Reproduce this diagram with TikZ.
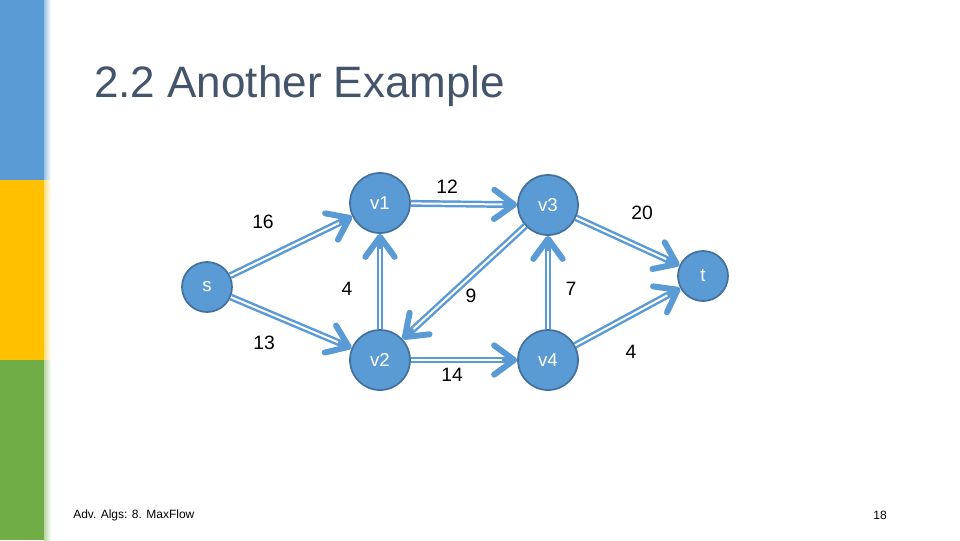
\documentclass[tikz,border=0pt]{standalone}
\usepackage{fontspec}
\setmainfont{Liberation Sans}
\usepackage{tikz}
\usetikzlibrary{positioning, arrows.meta}
\definecolor{barblue}{HTML}{5B9BD5}
\definecolor{baryellow}{HTML}{FFC000}
\definecolor{bargreen}{HTML}{70AD47}
\definecolor{nodeblue}{HTML}{5B9BD5}
\definecolor{nodeline}{HTML}{41719C}
\definecolor{titlegray}{HTML}{44546A}
\tikzset{
x=0.75pt, y=-0.75pt, % one unit is one pixel of the slide
node distance=126pt, % distance between two columns of the network
vertex/.style={circle, draw=nodeline, line width=1.3pt, fill=nodeblue, text=white, font=\fontsize{14}{16}\selectfont, inner sep=0pt, minimum size=45pt}, % the v nodes
small vertex/.style={vertex, minimum size=37.5pt}, % s and t
flow/.style={draw=nodeblue, line width=5.2pt, -{Straight Barb[length=15pt, width=22pt, line width=4.5pt, round]},
  postaction={draw=white, line width=1.5pt, -, shorten >=11pt}}, % double looking edge
weight/.style={font=\fontsize{14.5}{16}\selectfont, text=black, inner sep=0pt}, % capacities
}
\begin{document}
\begin{tikzpicture}
        \useasboundingbox (0,0) rectangle (960,540);
        \fill[white] (0,0) rectangle (960,540);
        % coloured bar on the left
        \fill[barblue] (0,0) rectangle (44,180);
        \fill[baryellow] (0,180) rectangle (44,360);
        \fill[bargreen] (0,360) rectangle (44,540);
        \shade[left color=barblue!60, right color=white] (44,0) rectangle (51,180);
        \shade[left color=baryellow!50, right color=white] (44,180) rectangle (51,360);
        \shade[left color=bargreen!50, right color=white] (44,360) rectangle (51,540);

        \node[anchor=base west, inner sep=0pt, text=titlegray, font=\fontsize{33}{36}\selectfont] (title) at (94,97) {2.2 Another Example};

            \node[small vertex] (s) at (207,287) {s};
            \node[vertex, right of=s, xshift=3.75pt, yshift=63pt] (v1) {v1};
            \node[vertex, right of=s, xshift=3.75pt, yshift=-54.75pt] (v2) {v2};
            \node[vertex, right of=v1, yshift=-1.5pt] (v3) {v3};
            \node[vertex, right of=v2] (v4) {v4};
            \node[small vertex, right of=v3, xshift=-9.75pt, yshift=-53.25pt] (t) {t};
            \draw[flow] (s) -- (v1);
            \draw[flow] (s) -- (v2);
            \draw[flow] (v1) -- (v3);
            \draw[flow] (v2) -- (v1);
            \draw[flow] (v3) -- (v2);
            \draw[flow] (v2) -- (v4);
            \draw[flow] (v4) -- (v3);
            \draw[flow] (v3) -- (t);
            \draw[flow] (v4) -- (t);
            \node[weight] (c16) at (263,222) {16};
            \node[weight] (c13) at (264,343) {13};
            \node[weight] (c12) at (447,187) {12};
            \node[weight] (c4a) at (347,289) {4};
            \node[weight] (c9) at (471,296) {9};
            \node[weight] (c7) at (571,289) {7};
            \node[weight] (c20) at (642,213) {20};
            \node[weight] (c4b) at (631,352) {4};
            \node[weight] (c14) at (452,375) {14};

        \node[anchor=west, inner sep=0pt, font=\fontsize{9}{10}\selectfont] (footer) at (73,515) {Adv. Algs: 8. MaxFlow};
        \node[inner sep=0pt, font=\fontsize{9}{10}\selectfont] (page) at (880,515) {18};
        \end{tikzpicture}
\end{document}
